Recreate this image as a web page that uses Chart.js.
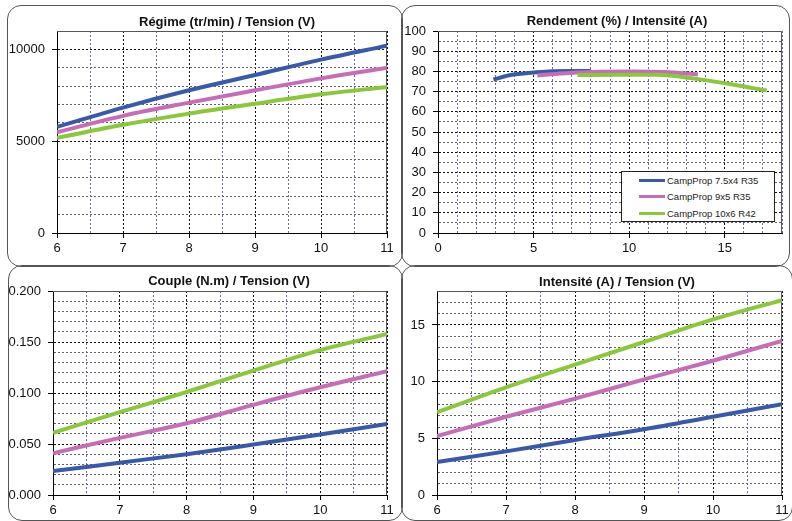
<!DOCTYPE html>
<html lang="fr">
<head>
<meta charset="UTF-8">
<title>CampProp - courbes moteur</title>
<script src="https://cdn.jsdelivr.net/npm/chart.js@4.4.1/dist/chart.umd.min.js"></script>
<style>
  body { margin: 0; background: #fff; }
  #page { position: relative; width: 792px; height: 521px; overflow: hidden;
          font-family: Arial, "Liberation Sans", Helvetica, sans-serif; }
  .panel { position: absolute; box-sizing: border-box; border: 1.5px solid #555; border-radius: 14px; }
  canvas { position: absolute; }
  #legend { position: absolute; left: 621px; top: 171px; width: 154px; height: 51px;
            box-sizing: border-box; border: 1px solid #222; background: #fff;
            font-size: 9.5px; color: #222; padding-top: 0; }
  #legend .row { height: 16.5px; display: flex; align-items: center; }
  #legend .sw { display: inline-block; width: 26px; height: 3px; margin-left: 17px; margin-right: 2px; }
</style>
</head>
<body>
<div id="page">
  <div class="panel" style="left:7px;top:5px;width:396px;height:262px"></div>
  <div class="panel" style="left:401px;top:5px;width:389px;height:262px"></div>
  <div class="panel" style="left:8px;top:265px;width:395px;height:256px"></div>
  <div class="panel" style="left:401px;top:265px;width:392px;height:256px"></div>

  <canvas id="regime" width="400" height="265" style="left:0;top:0"></canvas>
  <canvas id="rendement" width="392" height="265" style="left:400px;top:0"></canvas>
  <canvas id="couple" width="400" height="256" style="left:0;top:265px"></canvas>
  <canvas id="intensite" width="392" height="256" style="left:400px;top:265px"></canvas>

  <div id="legend"></div>
</div>

<script>
// --- data ---
const tension = [6, 7, 8, 9, 10, 11];
const names = ['CampProp 7.5x4 R35', 'CampProp 9x5 R35', 'CampProp 10x6 R42'];
const colors = ['#3b5aa6', '#c46eb5', '#8cc540'];

const regime7x4 = [5780, 6830, 7770, 8600, 9440, 10200];
const regime9x5 = [5490, 6380, 7100, 7770, 8420, 9000];
const regime10x6 = [5180, 5890, 6500, 7040, 7550, 7950];

const intensite7x4 = [2.9, 3.85, 4.85, 5.8, 6.9, 8.0];
const intensite9x5 = [5.2, 6.9, 8.5, 10.2, 11.85, 13.6];
const intensite10x6 = [7.3, 9.5, 11.5, 13.5, 15.5, 17.2];

const rendement7x4 = [76, 78.3, 79.3, 80, 80.2, 80.2];
const rendement9x5 = [78, 79.2, 79.8, 80, 79.7, 78.5];
const rendement10x6 = [78.2, 78.3, 78.4, 76.3, 73.4, 70.5];

const couple7x4 = [0.0234, 0.0317, 0.040, 0.0495, 0.0594, 0.0696];
const couple9x5 = [0.041, 0.056, 0.0703, 0.0884, 0.1056, 0.1214];
const couple10x6 = [0.061, 0.0812, 0.101, 0.122, 0.142, 0.158];

Chart.defaults.font.family = 'Arial, "Liberation Sans", Helvetica, sans-serif';
Chart.defaults.color = '#111';

function series(i, xs, ys) {
  return {
    label: names[i],
    data: xs.map((x, k) => ({ x: x, y: ys[k] })),
    borderColor: colors[i],
    backgroundColor: colors[i],
    borderWidth: 4,
    pointRadius: 0,
    cubicInterpolationMode: 'monotone',
    order: 2 - i
  };
}

// title drawn at a fixed spot, plus the top/right frame of the plot
const panelDeco = {
  id: 'panelDeco',
  beforeDatasetsDraw(chart) {
    const a = chart.chartArea, ctx = chart.ctx;
    ctx.save();
    ctx.strokeStyle = '#555';
    ctx.lineWidth = 1;
    ctx.beginPath();
    ctx.moveTo(a.left, a.top + 0.5);
    ctx.lineTo(a.right - 0.5, a.top + 0.5);
    ctx.lineTo(a.right - 0.5, a.bottom);
    ctx.stroke();
    ctx.restore();
  },
  afterDraw(chart, args, opts) {
    const ctx = chart.ctx;
    ctx.save();
    ctx.font = 'bold 13px Arial, "Liberation Sans", Helvetica, sans-serif';
    ctx.fillStyle = '#111';
    ctx.textAlign = 'center';
    ctx.textBaseline = 'middle';
    ctx.fillText(opts.text, opts.x, opts.y);
    ctx.restore();
  }
};

function axis(o, isX) {
  const major = v => Math.abs(v / o.major - Math.round(v / o.major)) < 1e-6;
  return {
    type: 'linear',
    min: o.min,
    max: o.max,
    ticks: {
      stepSize: o.step,
      autoSkip: false,
      maxRotation: 0,
      padding: isX ? 3 : 7,
      font: { size: 13 },
      color: '#111',
      callback: v => major(v) ? (o.fmt ? o.fmt(v) : String(v)) : ''
    },
    grid: {
      lineWidth: 1,
      tickLength: 5,
      color: c => c.tick && major(c.tick.value) ? '#111' : (isX ? '#6a6aa8' : '#606070'),
      tickColor: c => c.tick && major(c.tick.value) ? '#000' : 'rgba(0,0,0,0)'
    },
    border: { color: '#000', width: 1, dash: [2, 2] },
    afterFit: s => { if (isX) s.height = o.size; else s.width = o.size; }
  };
}

function panel(id, p) {
  new Chart(document.getElementById(id), {
    type: 'line',
    data: { datasets: p.datasets },
    plugins: [panelDeco],
    options: {
      responsive: false,
      animation: false,
      layout: { padding: { left: 0, top: p.top, right: p.right, bottom: 0 } },
      plugins: {
        legend: { display: false },
        tooltip: { enabled: false },
        panelDeco: { text: p.title, x: p.titleX, y: p.titleY }
      },
      scales: { x: axis(p.x, true), y: axis(p.y, false) }
    }
  });
}

panel('regime', {
  title: 'Régime (tr/min) / Tension (V)', titleX: 227, titleY: 22,
  top: 31, right: 13,
  datasets: [series(0, tension, regime7x4), series(1, tension, regime9x5), series(2, tension, regime10x6)],
  x: { min: 6, max: 11, step: 0.5, major: 1, size: 32 },
  y: { min: 0, max: 11000, step: 1000, major: 5000, size: 57 }
});

panel('rendement', {
  title: 'Rendement (%) / Intensité (A)', titleX: 217, titleY: 21,
  top: 31, right: 10,
  datasets: [series(0, intensite7x4, rendement7x4), series(1, intensite9x5, rendement9x5), series(2, intensite10x6, rendement10x6)],
  x: { min: 0, max: 18, step: 1, major: 5, size: 32 },
  y: { min: 0, max: 100, step: 5, major: 10, size: 38 }
});

panel('couple', {
  title: 'Couple (N.m) / Tension (V)', titleX: 229, titleY: 16,
  top: 26, right: 13,
  datasets: [series(0, tension, couple7x4), series(1, tension, couple9x5), series(2, tension, couple10x6)],
  x: { min: 6, max: 11, step: 0.5, major: 1, size: 26 },
  y: { min: 0, max: 0.2, step: 0.01, major: 0.05, size: 53, fmt: v => v.toFixed(3) }
});

panel('intensite', {
  title: 'Intensité (A) / Tension (V)', titleX: 217, titleY: 17,
  top: 26, right: 10,
  datasets: [series(0, tension, intensite7x4), series(1, tension, intensite9x5), series(2, tension, intensite10x6)],
  x: { min: 6, max: 11, step: 0.5, major: 1, size: 26 },
  y: { min: 0, max: 18, step: 1, major: 5, size: 37 }
});

// legend of the efficiency panel
document.getElementById('legend').innerHTML = names.map((n, i) =>
  '<div class="row"><span class="sw" style="background:' + colors[i] + '"></span>' + n + '</div>'
).join('');
</script>
</body>
</html>
